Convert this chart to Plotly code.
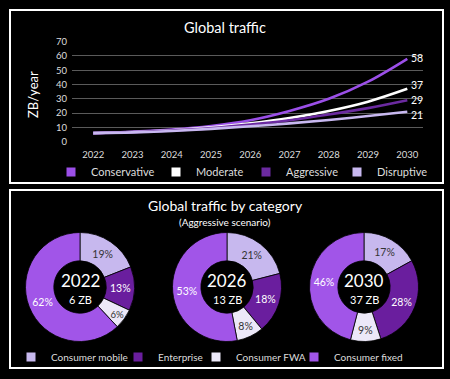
import plotly.graph_objects as go

W, H = 450, 379

years = [2022, 2023, 2024, 2025, 2026, 2027, 2028, 2029, 2030]
conservative = [6, 7, 8.5, 11, 15, 21.5, 30, 42, 58]
moderate = [6, 6.8, 8, 10, 12.8, 16.5, 21.5, 28, 37]
aggressive = [6, 6.7, 7.8, 9.5, 12, 15, 19, 23.5, 29]
disruptive = [6, 6.5, 7.5, 9, 10.8, 12.8, 15.2, 18, 21]

series_names = ["Conservative", "Moderate", "Aggressive", "Disruptive"]
series_values = [conservative, moderate, aggressive, disruptive]
series_colors = ["#9B4FE8", "#FFFFFF", "#6B2AA0", "#C8B8F0"]
end_label_shift = [1, 4, 0, -3]  # small vertical nudges (px) to keep end labels apart

categories = ["Consumer mobile", "Enterprise", "Consumer FWA", "Consumer fixed"]
cat_colors = ["#C7B8EE", "#6A1E9E", "#ECE8F8", "#A155E8"]
cat_text_colors = ["#333333", "#FFFFFF", "#333333", "#FFFFFF"]
pie_years = ["2022", "2026", "2030"]
pie_totals = ["6 ZB", "13 ZB", "37 ZB"]
pie_shares = [
    [19, 13, 6, 62],
    [21, 18, 8, 53],
    [17, 28, 9, 46],
]

FONT = "Lato"


def px_x(x):
    return x / W


def px_y(y):
    return 1 - y / H


fig = go.Figure()
annotations = []

for name, vals, col, sh in zip(series_names, series_values, series_colors, end_label_shift):
    fig.add_trace(go.Scatter(
        x=years, y=vals, mode="lines", line=dict(color=col, width=2.6, shape="spline"),
        showlegend=False, hoverinfo="skip", xaxis="x", yaxis="y"))
    annotations.append(dict(
        x=years[-1], y=vals[-1], xref="x", yref="y", text=f"{vals[-1]:g}", showarrow=False,
        xanchor="left", yanchor="middle", xshift=3, yshift=sh, borderpad=0,
        font=dict(color="#FFFFFF", size=10.5, family=FONT)))

legend_layouts = {}
top_leg_x = [77, 182, 272, 363]
bot_leg_x = [39, 146, 224, 322]

k = 1
for name, col, lx in zip(series_names, series_colors, top_leg_x):
    lname = "legend" if k == 1 else f"legend{k}"
    fig.add_trace(go.Scatter(
        x=[None], y=[None], mode="markers", name=name,
        marker=dict(symbol="square", size=9, color=col),
        legend=lname, xaxis="x", yaxis="y"))
    legend_layouts[lname] = dict(x=px_x(lx - 26), y=px_y(172), xanchor="left", yanchor="middle",
                                 font=dict(size=11, color="#DDDDDD", family=FONT),
                                 bgcolor="rgba(0,0,0,0)", itemwidth=30, orientation="h")
    k += 1

pie_centers = [80, 227, 364]
R = 54.5
cy = 287
for i, (cx, shares) in enumerate(zip(pie_centers, pie_shares)):
    fig.add_trace(go.Pie(
        labels=categories, values=shares, sort=False, direction="clockwise", rotation=0,
        hole=0.48, marker=dict(colors=cat_colors, line=dict(color="#000000", width=0.8)),
        texttemplate="%{value}%", textposition="inside", insidetextorientation="horizontal",
        textfont=dict(size=10.5, family=FONT, color=cat_text_colors),
        domain=dict(x=[px_x(cx - R), px_x(cx + R)], y=[px_y(cy + R), px_y(cy - R)]),
        showlegend=False, hoverinfo="label+percent"))

for name, col, lx in zip(categories, cat_colors, bot_leg_x):
    lname = f"legend{k}"
    fig.add_trace(go.Scatter(
        x=[None], y=[None], mode="markers", name=name,
        marker=dict(symbol="square", size=9, color=col),
        legend=lname, xaxis="x", yaxis="y"))
    legend_layouts[lname] = dict(x=px_x(lx - 28), y=px_y(357), xanchor="left", yanchor="middle",
                                 font=dict(size=10, color="#DDDDDD", family=FONT),
                                 bgcolor="rgba(0,0,0,0)", itemwidth=30, orientation="h")
    k += 1


def ann(text, x, y, size, angle=0):
    return dict(text=text, x=px_x(x), y=px_y(y), xref="paper", yref="paper",
                xanchor="center", yanchor="middle", textangle=angle, showarrow=False,
                font=dict(size=size, color="#FFFFFF", family=FONT))


annotations += [
    ann("Global traffic", 225, 27, 14.5),
    ann("ZB/year", 33, 95, 13, -90),
    ann("Global traffic by category", 225, 205.5, 14),
    ann("(Aggressive scenario)", 225, 221.5, 10),
]
for cx, yr, tot in zip(pie_centers, pie_years, pie_totals):
    annotations.append(ann(yr, cx, 280, 17))
    annotations.append(ann(tot, cx, 299, 11))

shapes = [
    dict(type="rect", xref="paper", yref="paper", x0=px_x(10), x1=px_x(443), y0=px_y(183), y1=px_y(10),
         line=dict(color="#FFFFFF", width=2)),
    dict(type="rect", xref="paper", yref="paper", x0=px_x(10), x1=px_x(443), y0=px_y(368), y1=px_y(190),
         line=dict(color="#FFFFFF", width=2)),
]

fig.update_layout(
    width=W, height=H, margin=dict(l=0, r=0, t=0, b=0, pad=0, autoexpand=False),
    paper_bgcolor="#000000", plot_bgcolor="#000000",
    font=dict(family=FONT, color="#DDDDDD"),
    xaxis=dict(domain=[px_x(72), px_x(423)], range=[2021.46, 2030.4], tickmode="array",
               tickvals=years, ticktext=[str(y) for y in years], showgrid=False, zeroline=False,
               showline=False, tickfont=dict(size=9.5, color="#DDDDDD"), ticks="",
               ticklabelstandoff=6, fixedrange=True, automargin=False),
    yaxis=dict(domain=[px_y(141.7), px_y(41.7)], range=[0, 70], dtick=10, showgrid=True,
               gridcolor="#5A5A5A", gridwidth=1, zeroline=False, showline=False,
               tickfont=dict(size=9.5, color="#DDDDDD"), ticks="", fixedrange=True,
               ticklabelstandoff=4, automargin=False),
    annotations=annotations, shapes=shapes,
    **legend_layouts,
)

fig.write_html("out.html", config={"displayModeBar": False},
               post_script="document.body.style.margin='0';document.body.style.overflow='hidden';")
